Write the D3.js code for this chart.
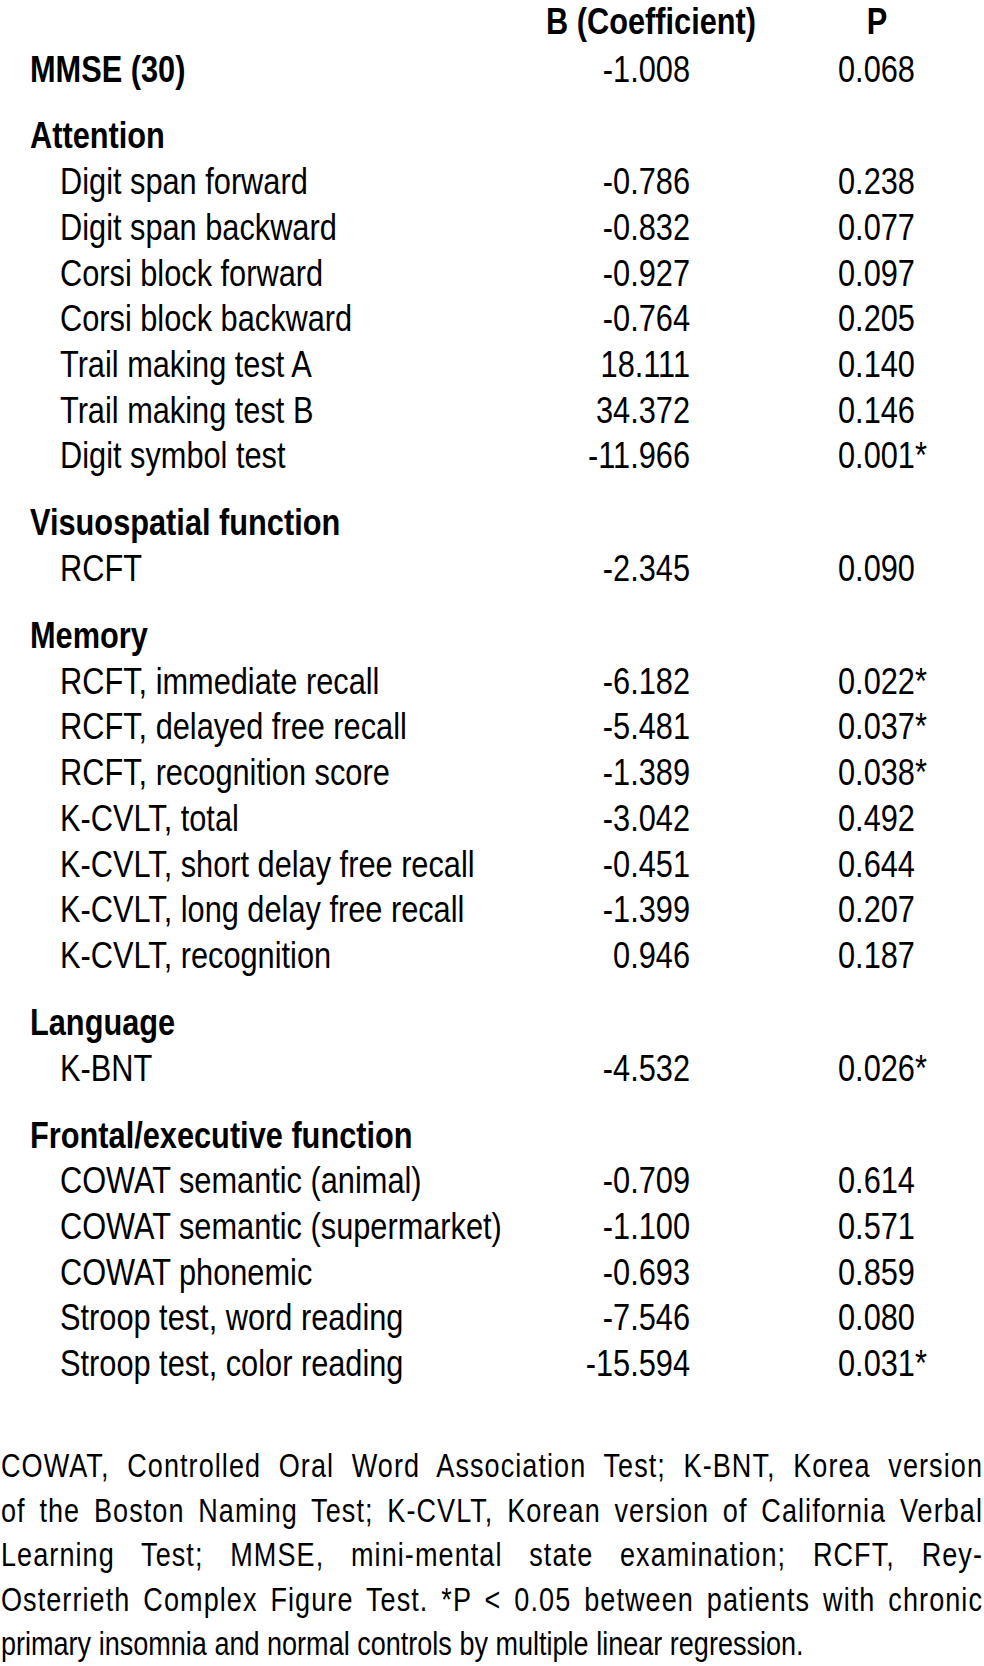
<!DOCTYPE html>
<html>
<head>
<meta charset="utf-8">
<script src="https://cdn.jsdelivr.net/npm/d3@7"></script>
<style>
  html, body { margin: 0; padding: 0; background: #fff; }
  svg { display: block; }
</style>
</head>
<body>
<div class="canva"></div>
<script>
// table content
const labels = [
  "MMSE (30)",
  "Attention",
  "Digit span forward", "Digit span backward", "Corsi block forward", "Corsi block backward",
  "Trail making test A", "Trail making test B", "Digit symbol test",
  "Visuospatial function",
  "RCFT",
  "Memory",
  "RCFT, immediate recall", "RCFT, delayed free recall", "RCFT, recognition score",
  "K-CVLT, total", "K-CVLT, short delay free recall", "K-CVLT, long delay free recall", "K-CVLT, recognition",
  "Language",
  "K-BNT",
  "Frontal/executive function",
  "COWAT semantic (animal)", "COWAT semantic (supermarket)", "COWAT phonemic",
  "Stroop test, word reading", "Stroop test, color reading"
];
// 0 = bold group row, 1 = indented item
const levels = [0, 0, 1, 1, 1, 1, 1, 1, 1, 0, 1, 0, 1, 1, 1, 1, 1, 1, 1, 0, 1, 0, 1, 1, 1, 1, 1];
const bCoef = [-1.008, null, -0.786, -0.832, -0.927, -0.764, 18.111, 34.372, -11.966,
  null, -2.345, null, -6.182, -5.481, -1.389, -3.042, -0.451, -1.399, 0.946,
  null, -4.532, null, -0.709, -1.100, -0.693, -7.546, -15.594];
const pVal = [0.068, null, 0.238, 0.077, 0.097, 0.205, 0.140, 0.146, 0.001,
  null, 0.090, null, 0.022, 0.037, 0.038, 0.492, 0.644, 0.207, 0.187,
  null, 0.026, null, 0.614, 0.571, 0.859, 0.080, 0.031];
const headers = ["B (Coefficient)", "P"];
const footnote = [
  "COWAT, Controlled Oral Word Association Test; K-BNT, Korea version",
  "of the Boston Naming Test; K-CVLT, Korean version of California Verbal",
  "Learning Test; MMSE, mini-mental state examination; RCFT, Rey-",
  "Osterrieth Complex Figure Test. *P < 0.05 between patients with chronic",
  "primary insomnia and normal controls by multiple linear regression."
];

const width = 984, height = 1666;

// check if the narrow font is installed, otherwise squeeze the regular one
const ctx = document.createElement('canvas').getContext('2d');
ctx.font = "36px 'Liberation Sans Narrow', serif";
const wNarrow = ctx.measureText("Digit span forward").width;
ctx.font = "36px serif";
const wSerif = ctx.measureText("Digit span forward").width;
const hasNarrow = Math.abs(wNarrow - wSerif) > 0.5;
const family = hasNarrow ? "'Liberation Sans Narrow', 'Liberation Sans', Arial, sans-serif"
                         : "'Liberation Sans', Arial, sans-serif";
const sx = hasNarrow ? 1 : 0.82;

const svg = d3.select('.canva').append('svg')
  .attr('width', width)
  .attr('height', height)
  .style('font-family', family)
  .style('fill', '#000');

svg.append('rect').attr('width', width).attr('height', height).attr('fill', '#fff');

// vertical layout: one unit per row, extra space before each group row
const gapExtra = 0.466;
let gaps = 0;
const slots = labels.map((d, i) => {
  if (i > 0 && levels[i] === 0) gaps++;
  return i + gaps * gapExtra;
});
const y = d3.scaleLinear().domain([0, 1]).range([81.5, 81.5 + 45.7]);

const col = { group: 30, item: 60, bRight: 690, pLeft: 838 };
const fs = 37.5;
// plain hyphen for negatives, like the source
const fmt = d3.formatLocale({ decimal: '.', thousands: ',', grouping: [3], currency: ['', ''], minus: '-' }).format('.3f');

function put(sel, x, yy) {
  return sel.attr('transform', `translate(${x},${yy}) scale(${sx},1)`);
}

// column headers
put(svg.append('text').text(headers[0]), 651, 34)
  .attr('text-anchor', 'middle').attr('font-weight', 'bold').attr('font-size', fs);
put(svg.append('text').text(headers[1]), 877, 34)
  .attr('text-anchor', 'middle').attr('font-weight', 'bold').attr('font-size', fs);

const rows = svg.selectAll('g.row')
  .data(labels)
  .enter().append('g')
  .attr('class', 'row');

rows.append('text')
  .text(d => d)
  .attr('font-size', fs)
  .attr('font-weight', (d, i) => levels[i] === 0 ? 'bold' : 'normal')
  .each(function (d, i) {
    put(d3.select(this), levels[i] === 0 ? col.group : col.item, y(slots[i]));
  });

rows.filter((d, i) => bCoef[i] !== null)
  .append('text')
  .text(d => fmt(bCoef[labels.indexOf(d)]))
  .attr('font-size', fs)
  .attr('text-anchor', 'end')
  .each(function (d) {
    const i = labels.indexOf(d);
    put(d3.select(this), col.bRight, y(slots[i]));
  });

rows.filter((d, i) => pVal[i] !== null)
  .append('text')
  .text(d => {
    const p = pVal[labels.indexOf(d)];
    return fmt(p) + (p < 0.05 ? '*' : '');
  })
  .attr('font-size', fs)
  .each(function (d) {
    const i = labels.indexOf(d);
    put(d3.select(this), col.pLeft, y(slots[i]));
  });

// footnote, justified except the last line
const noteTop = 1477, noteStep = 44.6, noteLeft = 1, noteRight = 983;
footnote.forEach((line, i) => {
  const t = put(svg.append('text').text(line), noteLeft, noteTop + i * noteStep)
    .attr('font-size', 33);
  if (i < footnote.length - 1) {
    t.attr('letter-spacing', 1.3);
    const natural = t.node().getComputedTextLength();
    const spaces = line.split(' ').length - 1;
    const extra = Math.max(0, ((noteRight - noteLeft) / sx - natural) / spaces);
    t.attr('word-spacing', extra);
  }
});
</script>
</body>
</html>
